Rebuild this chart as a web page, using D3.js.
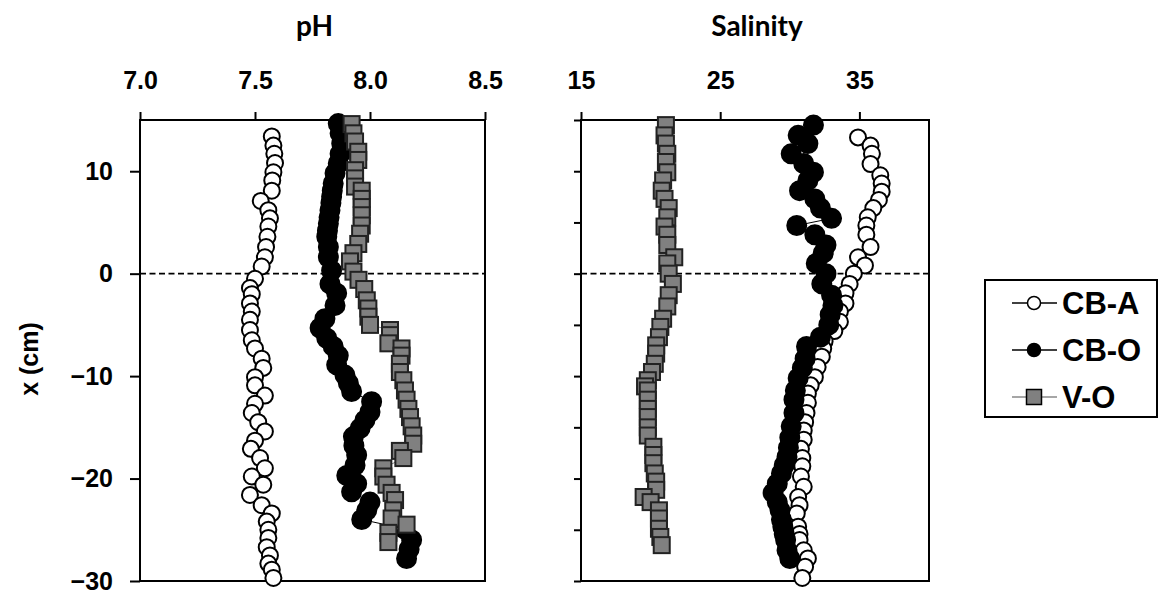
<!DOCTYPE html>
<html>
<head>
  <meta charset="UTF-8">
  <style>
    body { margin: 0; background: #fff; }
    .tick text { font-family: "Liberation Sans", Arial, sans-serif; font-weight: bold; font-size: 25px; fill: #000; }
    .tick line { stroke: #000; stroke-width: 2px; }
    .title { font-family: Lato, "Open Sans", sans-serif; font-weight: bold; font-size: 28px; }
    .lab { font-family: "Liberation Sans", Arial, sans-serif; font-weight: bold; }
  </style>
</head>
<body>
<script src="https://d3js.org/d3.v7.min.js"></script>
<script>

// [depth (cm), value]
const phCBA = [[13.4,7.573],[12.5,7.58],[11.7,7.584],[10.8,7.587],[9.9,7.58],[9.1,7.575],[8.1,7.573],[7.1,7.525],[6.2,7.558],[5.4,7.565],[4.6,7.558],[3.6,7.554],[2.6,7.548],[1.6,7.543],[0.7,7.529],[-0.5,7.5],[-1.4,7.478],[-2.0,7.486],[-2.9,7.478],[-3.7,7.486],[-4.5,7.478],[-5.5,7.478],[-6.5,7.486],[-7.3,7.5],[-8.3,7.529],[-9.2,7.536],[-10.1,7.5],[-10.9,7.5],[-11.9,7.543],[-12.7,7.5],[-13.6,7.486],[-14.5,7.514],[-15.4,7.543],[-16.3,7.5],[-17.1,7.482],[-18.0,7.522],[-19.0,7.543],[-19.8,7.486],[-20.6,7.536],[-21.6,7.478],[-22.6,7.529],[-23.4,7.573],[-24.2,7.551],[-25.0,7.558],[-25.8,7.558],[-26.7,7.551],[-27.5,7.565],[-28.3,7.558],[-28.9,7.573],[-29.7,7.58]];

const phCBO = [[14.65,7.862],[13.7,7.87],[12.7,7.877],[11.7,7.87],[10.75,7.862],[9.8,7.848],[8.8,7.84],[8.1,7.836],[7.5,7.833],[6.9,7.83],[6.2,7.826],[5.5,7.822],[4.9,7.819],[4.2,7.815],[3.6,7.812],[2.6,7.819],[1.6,7.819],[0.3,7.833],[-1.0,7.826],[-1.9,7.855],[-3.1,7.848],[-4.4,7.804],[-5.3,7.783],[-6.3,7.812],[-7.1,7.84],[-8.0,7.862],[-8.9,7.855],[-9.9,7.891],[-10.7,7.906],[-11.5,7.92],[-12.5,8.007],[-13.5,8.0],[-14.3,7.978],[-15.1,7.957],[-15.9,7.928],[-16.8,7.93],[-17.7,7.942],[-18.7,7.935],[-19.7,7.899],[-20.5,7.942],[-21.3,7.92],[-22.3,8.0],[-23.1,7.986],[-24.0,7.964],[-24.9,8.15],[-26.0,8.181],[-26.9,8.17],[-27.8,8.159]];

const phVO = [[14.6,7.92],[13.7,7.928],[12.9,7.935],[11.9,7.949],[11.1,7.949],[10.1,7.935],[9.3,7.935],[8.5,7.935],[8.1,7.964],[7.3,7.964],[6.5,7.964],[5.7,7.964],[4.7,7.964],[3.9,7.957],[2.9,7.949],[2.0,7.928],[1.2,7.913],[0.2,7.928],[-0.6,7.95],[-1.5,7.975],[-2.6,7.986],[-3.4,7.993],[-4.2,7.993],[-5.0,8.0],[-5.5,8.087],[-6.0,8.087],[-6.8,8.08],[-7.3,8.137],[-8.0,8.137],[-8.8,8.13],[-9.6,8.13],[-10.4,8.145],[-11.4,8.152],[-12.3,8.159],[-13.2,8.167],[-14.0,8.174],[-14.9,8.181],[-15.8,8.188],[-16.6,8.188],[-17.3,8.13],[-18.0,8.145],[-19.0,8.058],[-19.8,8.058],[-20.6,8.072],[-21.4,8.094],[-22.1,8.109],[-23.1,8.101],[-23.9,8.094],[-24.5,8.159],[-25.3,8.08],[-26.2,8.08]];

const salCBA = [[13.3,34.9],[12.5,35.8],[11.7,35.9],[10.7,35.8],[9.6,36.5],[8.8,36.6],[8.0,36.6],[7.2,36.4],[6.4,36.0],[5.5,35.6],[4.7,35.5],[3.8,35.5],[2.6,35.8],[1.6,34.9],[0.8,35.4],[0,34.6],[-1,34.3],[-1.9,34.0],[-2.9,34.0],[-3.7,33.6],[-4.7,33.6],[-5.6,33.2],[-6.6,32.5],[-7.3,32.4],[-8.1,32.3],[-9.1,32.0],[-10.1,31.8],[-10.9,31.5],[-11.7,31.3],[-12.6,31.3],[-13.6,31.2],[-14.5,31.1],[-15.3,31.0],[-16.2,31.0],[-17.1,30.8],[-18.0,30.9],[-18.8,30.9],[-19.8,30.8],[-20.8,31.0],[-21.8,30.6],[-22.6,30.7],[-23.4,30.5],[-24.7,30.6],[-25.4,30.7],[-26.0,30.7],[-27.0,31.0],[-27.8,31.3],[-28.6,31.1],[-29.7,30.9]];

const salCBO = [[14.5,31.7],[13.5,30.6],[12.7,31.3],[11.7,30.1],[10.75,31.0],[9.9,31.7],[9.1,31.3],[8.1,30.7],[7.3,31.8],[6.4,32.2],[5.4,33.0],[4.7,30.5],[3.8,31.8],[2.8,32.6],[2.0,32.4],[1.0,31.9],[0,32.6],[-1,32.3],[-2.1,33.0],[-3.1,33.1],[-4.0,32.9],[-5.0,32.8],[-6.2,32.2],[-7.1,31.2],[-8.3,31.1],[-9.2,30.9],[-10.2,30.6],[-11.4,30.4],[-12.3,30.3],[-13.6,30.3],[-14.9,30.1],[-16.0,30.0],[-17.0,29.9],[-17.9,29.8],[-18.7,29.6],[-19.5,29.4],[-20.5,29.1],[-21.4,28.8],[-22.3,29.1],[-23.1,29.3],[-24.0,29.4],[-24.7,29.5],[-25.4,29.6],[-26.0,29.7],[-27.0,29.8],[-27.8,30.0]];

const salVO = [[14.5,21.1],[13.5,21.0],[12.7,21.1],[11.7,21.2],[10.9,21.1],[9.9,21.2],[9.1,20.9],[8.1,20.8],[7.3,21.0],[6.4,21.3],[5.5,21.2],[4.6,21.0],[3.8,21.2],[2.8,21.2],[1.6,21.7],[1.0,21.2],[0,21.3],[-1.0,21.6],[-2.1,21.3],[-3.2,21.2],[-4.4,20.9],[-5.2,20.7],[-6.2,20.6],[-7.0,20.4],[-7.8,20.4],[-8.8,20.3],[-9.6,20.1],[-10.4,19.8],[-11.0,19.6],[-11.4,19.8],[-12.3,19.8],[-13.2,19.8],[-14.0,19.8],[-15.0,19.8],[-15.8,19.8],[-16.9,20.2],[-17.7,20.2],[-18.5,20.2],[-19.5,20.3],[-20.3,20.4],[-21.1,20.4],[-21.8,19.5],[-22.3,20.0],[-23.1,20.6],[-23.9,20.6],[-24.9,20.6],[-25.7,20.7],[-26.5,20.8]];

const seriesNames = ["CB-A", "CB-O", "V-O"];
const phTicks = [7.0, 7.5, 8.0, 8.5];
const salTicks = [15, 25, 35];
const depthTicks = [10, 0, -10, -20, -30];
const depthMinor = [15, 10, 5, 0, -5, -10, -15, -20, -25, -30];

let width = 1159, height = 591;
let svg = d3.select("body").append("svg")
    .attr("width", width).attr("height", height);

let y = d3.scaleLinear().domain([-30, 15]).range([581, 120]);
let xPH = d3.scaleLinear().domain([7, 8.5]).range([140, 485]);
let xSal = d3.scaleLinear().domain([15, 40]).range([581, 929]);

// marker styles per series
const styles = {
  "CB-A": {shape: "circle", r: 8, fill: "#fff", stroke: "#000", line: "#000"},
  "CB-O": {shape: "circle", r: 9.5, fill: "#000", stroke: "#000", line: "#000"},
  "V-O":  {shape: "square", r: 8, fill: "#808080", stroke: "#222", line: "#808080"}
};

function drawMarkers(g, data, x, st) {
  if (st.shape == "circle") {
    g.selectAll("circle").data(data).enter().append("circle")
      .attr("cx", d => x(d[1])).attr("cy", d => y(d[0]))
      .attr("r", st.r).attr("fill", st.fill)
      .attr("stroke", st.stroke).attr("stroke-width", 2);
  } else {
    g.selectAll("rect").data(data).enter().append("rect")
      .attr("x", d => x(d[1]) - st.r).attr("y", d => y(d[0]) - st.r)
      .attr("width", st.r * 2).attr("height", st.r * 2)
      .attr("fill", st.fill).attr("stroke", st.stroke).attr("stroke-width", 2);
  }
}

function panel(x, ticks, fmt, title, allSeries, labelled) {
  let p = svg.append("g");

  // top axis
  p.append("g").attr("transform", "translate(0,120)")
    .call(d3.axisTop(x).tickValues(ticks).tickSize(8).tickPadding(23).tickFormat(fmt))
    .call(g => g.select(".domain").remove());

  // left axis
  if (labelled) {
    p.append("g").attr("transform", "translate(" + x.range()[0] + ",0)")
      .call(d3.axisLeft(y).tickValues(depthTicks).tickSize(10).tickPadding(17))
      .call(g => g.select(".domain").remove());
  } else {
    p.append("g").attr("transform", "translate(" + x.range()[0] + ",0)")
      .call(d3.axisLeft(y).tickValues(depthMinor).tickSize(7).tickFormat(""))
      .call(g => g.select(".domain").remove());
  }

  p.append("rect")
    .attr("x", x.range()[0]).attr("y", y(15))
    .attr("width", x.range()[1] - x.range()[0]).attr("height", y(-30) - y(15))
    .attr("fill", "none").attr("stroke", "#000").attr("stroke-width", 2);

  p.append("line")
    .attr("x1", x.range()[0]).attr("x2", x.range()[1])
    .attr("y1", y(0)).attr("y2", y(0))
    .attr("stroke", "#000").attr("stroke-width", 1.8)
    .attr("stroke-dasharray", "6,3.5");

  p.append("text").attr("class", "title")
    .attr("x", (x.range()[0] + x.range()[1]) / 2 + 2).attr("y", 36)
    .attr("text-anchor", "middle").text(title);

  let line = d3.line().x(d => x(d[1])).y(d => y(d[0]));
  allSeries.forEach((data, i) => {
    let st = styles[seriesNames[i]];
    let g = p.append("g");
    g.append("path").datum(data).attr("d", line)
      .attr("fill", "none").attr("stroke", st.line).attr("stroke-width", 1);
    drawMarkers(g, data, x, st);
  });
}

panel(xPH, phTicks, d3.format(".1f"), "pH", [phCBA, phCBO, phVO], true);
panel(xSal, salTicks, d3.format("d"), "Salinity", [salCBA, salCBO, salVO], false);

// y label
svg.append("text").attr("class", "lab")
  .attr("transform", "translate(38,359) rotate(-90)")
  .attr("text-anchor", "middle")
  .style("font-size", "25px")
  .text("x (cm)");

// legend
let leg = svg.append("g");
leg.append("rect").attr("x", 985).attr("y", 280).attr("width", 172).attr("height", 137)
  .attr("fill", "#fff").attr("stroke", "#000").attr("stroke-width", 2);

let legSty = {
  "CB-A": {r: 6.5, line: "#000"},
  "CB-O": {r: 6.5, line: "#000"},
  "V-O":  {r: 7.5, line: "#888"}
};
seriesNames.forEach((name, i) => {
  let cy = 303 + i * 47;
  let st = styles[name];
  leg.append("line").attr("x1", 1012).attr("x2", 1057).attr("y1", cy).attr("y2", cy)
    .attr("stroke", legSty[name].line).attr("stroke-width", 1.5);
  if (st.shape == "circle") {
    leg.append("circle").attr("cx", 1034).attr("cy", cy).attr("r", legSty[name].r)
      .attr("fill", st.fill).attr("stroke", "#000").attr("stroke-width", 1.5);
  } else {
    let s = legSty[name].r;
    leg.append("rect").attr("x", 1034 - s).attr("y", cy - s).attr("width", 2 * s).attr("height", 2 * s)
      .attr("fill", st.fill).attr("stroke", "#000").attr("stroke-width", 1.5);
  }
  leg.append("text").attr("class", "lab")
    .attr("x", 1062).attr("y", cy + 11)
    .style("font-size", "31px")
    .text(name);
});

</script>
</body>
</html>
